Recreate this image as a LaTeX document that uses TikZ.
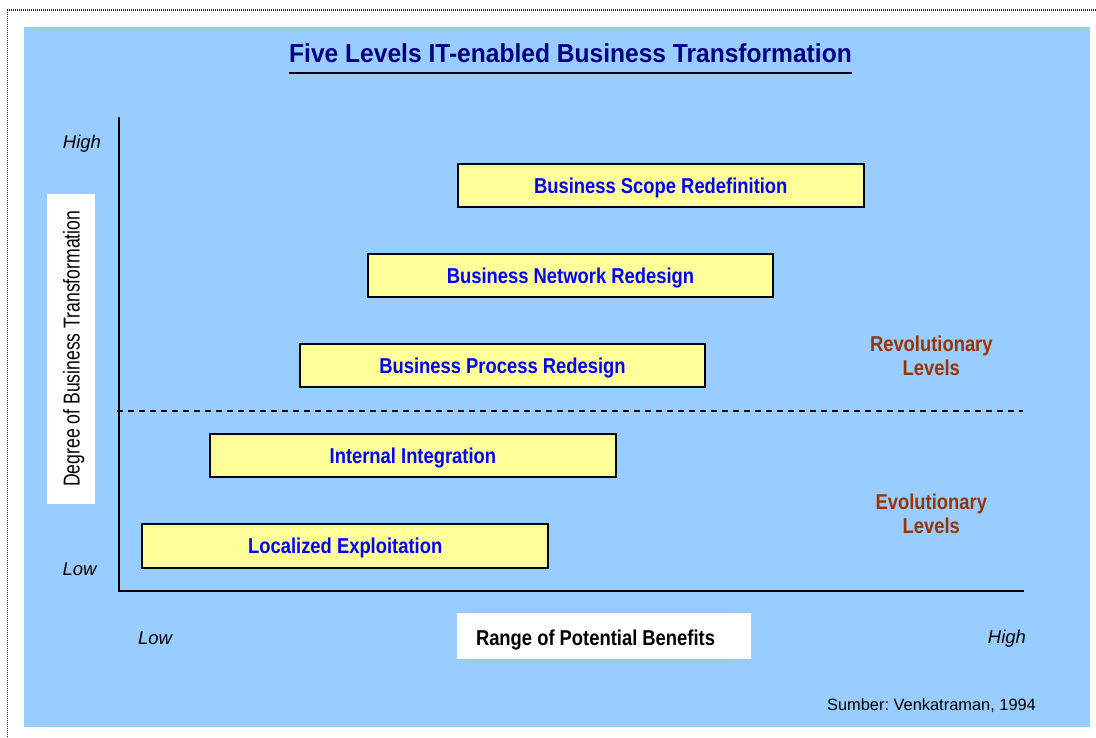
\documentclass[tikz,border=0pt]{standalone}
\usepackage{fontspec}
\setmainfont{Liberation Sans}
\newfontfamily\condfont[FakeStretch=0.855]{Liberation Sans}
\newfontfamily\headfont[FakeStretch=0.945]{Liberation Sans}
\newfontfamily\tallfont[FakeStretch=0.765]{Liberation Sans}
\frenchspacing
\definecolor{panelblue}{HTML}{99CCFF}
\definecolor{boxyellow}{HTML}{FFFF99}
\definecolor{labelblue}{HTML}{0000FF}
\definecolor{titlenavy}{HTML}{000080}
\definecolor{levelbrown}{HTML}{993300}
\begin{document}
\begin{tikzpicture}[x=1pt,y=-1pt,
  levelbox/.style={draw=black, line width=2pt, fill=boxyellow,
    minimum width=405.5pt, minimum height=43.5pt, inner sep=0pt,
    font=\condfont\bfseries\fontsize{21.5}{24}\selectfont, text=labelblue,
    text height=15.4pt, text depth=0pt},
  levelnote/.style={anchor=base, inner sep=0pt, text=levelbrown,
    font=\condfont\bfseries\fontsize{21.5}{24}\selectfont},
  endlabel/.style={anchor=base, inner sep=0pt,
    font=\itshape\fontsize{18.5}{22}\selectfont},
  whitepanel/.style={fill=white, draw=none, inner sep=0pt},
  axisline/.style={line width=2pt, draw=black},
  frameline/.style={line width=1.2pt, draw=black!85, dash pattern=on 1pt off 1pt}]
\useasboundingbox (0,0) rectangle (1096,737);

% page frame and panel
\draw[frameline] (7.5,737) -- (7.5,10) -- (1096,10);
\fill[panelblue] (24,26.7) rectangle (1090,726.7);

% title
\node[anchor=base, inner sep=0pt, text=titlenavy,
  font=\headfont\bfseries\fontsize{26}{30}\selectfont] (title) at (570.5,62)
  {Five Levels IT-enabled Business Transformation};
\draw[line width=2pt] ([yshift=-10.7pt]title.base west) -- ([yshift=-10.7pt]title.base east);

% axes
\coordinate (ytop) at (119,117.3);
\coordinate (origin) at (119,591);
\coordinate (xend) at (1024,591);
\draw[axisline] (ytop) -- (origin) -- (xend);

% boundary between evolutionary and revolutionary levels
\coordinate (split west) at (117,410.7);
\coordinate (split east) at (1023,410.7);
\draw[line width=2pt, dash pattern=on 5.5pt off 5.5pt] (split west) -- (split east);

% axis captions
\node[whitepanel, minimum width=48.3pt, minimum height=310pt] (ylabbox) at (70.85,349) {};
\node[rotate=90, anchor=base, inner sep=0pt,
  font=\tallfont\fontsize{23}{26}\selectfont] (ylab) at (79.6,348.7)
  {Degree of Business Transformation};
\node[whitepanel, minimum width=293.7pt, minimum height=45.7pt] (xlabbox) at (604,635.8) {};
\node[anchor=base, inner sep=0pt,
  font=\condfont\bfseries\fontsize{21.5}{24}\selectfont] (xlab) at (595.5,645)
  {Range of Potential Benefits};

\node[endlabel] (yhigh) at (82,148) {High};
\node[endlabel] (ylow) at (79.5,575.7) {Low};
\node[endlabel] (xlow) at (155,644) {Low};
\node[endlabel] (xhigh) at (1007,643.3) {High};

% the five levels
\node[levelbox] (l1) at (345.2,546.2) {Localized Exploitation};
\node[levelbox] (l2) at (412.9,455.7) {Internal Integration};
\node[levelbox] (l3) at (502.5,365.5) {Business Process Redesign};
\node[levelbox] (l4) at (570.5,275.4) {Business Network Redesign};
\node[levelbox] (l5) at (660.8,185.5) {Business Scope Redefinition};

% level groups
\node[levelnote] (rev1) at (931.3,351) {Revolutionary};
\node[levelnote] (rev2) at (931.3,375) {Levels};
\node[levelnote] (evo1) at (931.3,509) {Evolutionary};
\node[levelnote] (evo2) at (931.3,533.3) {Levels};

% source
\node[anchor=base, inner sep=0pt, font=\fontsize{16.4}{20}\selectfont] (source)
  at (931.5,710) {Sumber: Venkatraman, 1994};
\end{tikzpicture}
\end{document}
